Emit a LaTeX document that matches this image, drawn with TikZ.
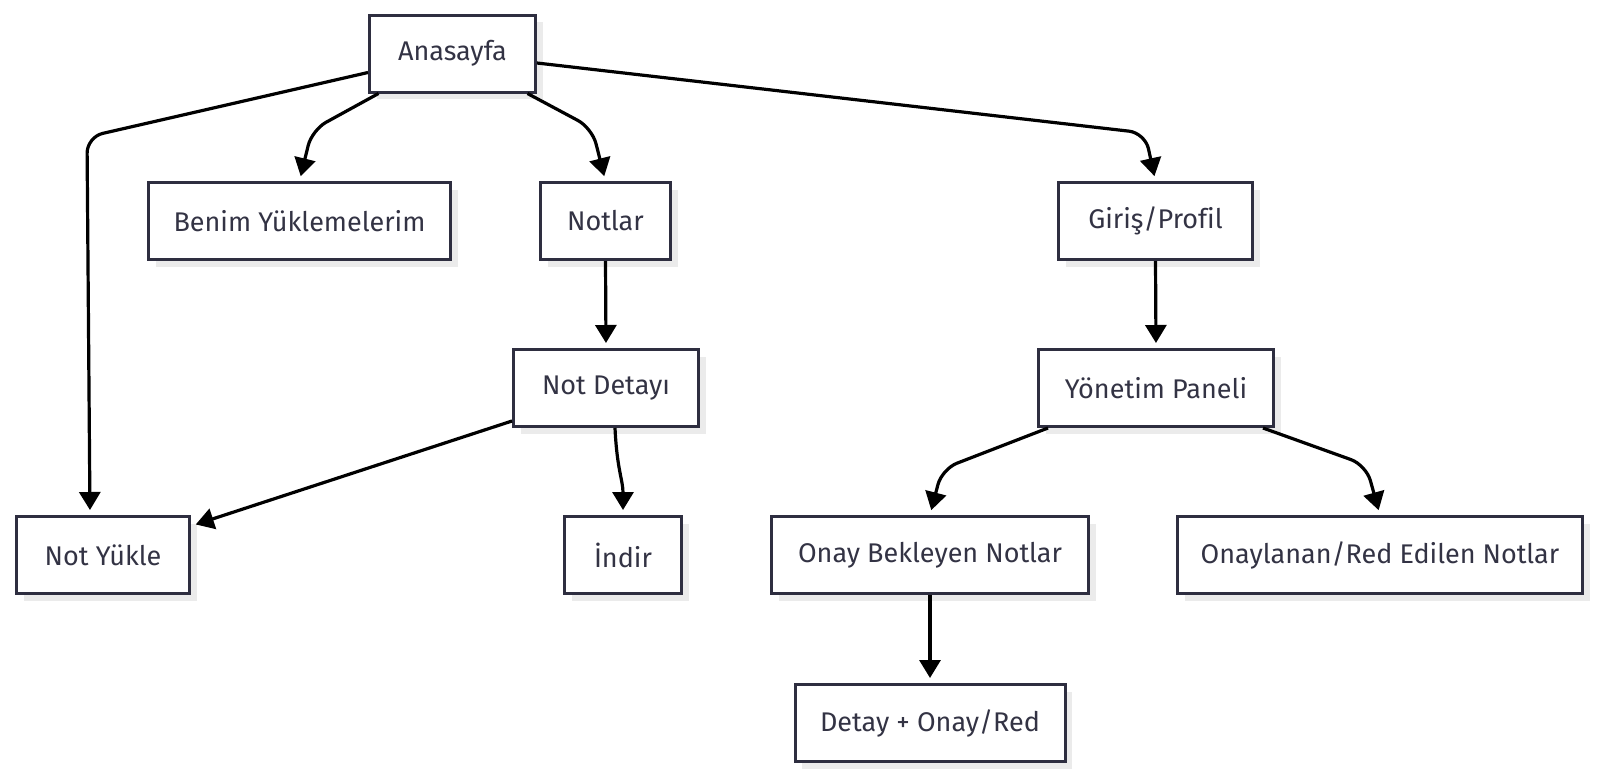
\documentclass[tikz,border=0pt]{standalone}
\usepackage{fontspec}
\setmainfont{Fira Sans}[Ligatures=NoCommon]
\usetikzlibrary{arrows.meta,shadows,calc}
\definecolor{bordc}{HTML}{2E2E40}
\definecolor{txtc}{HTML}{333344}
\begin{document}
\begin{tikzpicture}[x=1pt,y=-1pt,
  box/.style={draw=bordc,line width=3pt,fill=white,minimum height=77pt,inner sep=0pt,text=txtc,
    font=\fontsize{27}{32}\selectfont,
    drop shadow={shadow xshift=7pt,shadow yshift=-7pt,fill=black!8,opacity=1}},
  link/.style={line width=3.2pt,-{Triangle[width=21pt,length=18pt]},rounded corners=16pt,shorten >=5pt}]
\useasboundingbox[fill=white] (0,0) rectangle (1600,777);
\node[box,minimum width=166pt] (ana) at (452.5,53.5) {Anasayfa};
\node[box,minimum width=302pt] (ben) at (299.5,221) {Benim Yüklemelerim};
\node[box,minimum width=130pt] (not) at (605.5,221) {Notlar};
\node[box,minimum width=194pt] (gir) at (1155.5,221) {Giriş/Profil};
\node[box,minimum width=185pt] (det) at (606,388) {Not Detayı};
\node[box,minimum width=235pt] (yon) at (1156,388) {Yönetim Paneli};
\node[box,minimum width=173pt] (yuk) at (103,555) {Not Yükle};
\node[box,minimum width=117pt] (ind) at (623,555) {İndir};
\node[box,minimum width=317pt] (onb) at (930,555) {Onay Bekleyen Notlar};
\node[box,minimum width=405pt] (ona) at (1380,555) {Onaylanan/Red Edilen Notlar};
\node[box,minimum width=270pt] (dor) at (930,723) {Detay + Onay/Red};
\coordinate (c1) at (87,137);
\coordinate (c2) at (312,130);
\coordinate (c3) at (592,128);
\coordinate (c4) at (1145,133);
\coordinate (c9) at (942,469);
\coordinate (c10) at (1366,465);
\draw[link] ([yshift=-19pt]ana.west) -- (c1) -- ([xshift=-13pt]yuk.north);
\draw[link] ([xshift=-74pt]ana.south) -- (c2) -- (ben.north);
\draw[link] ([xshift=75pt]ana.south) -- (c3) -- (not.north);
\draw[link] ([yshift=-9.5pt]ana.east) -- (c4) -- (gir.north);
\draw[link] (not.south) -- (det.north);
\draw[link] ([yshift=-33pt]det.west) -- ([yshift=29pt]yuk.east);
\draw[link] ([xshift=9pt]det.south) .. controls ([xshift=11pt,yshift=-42pt]det.south) and ([yshift=35pt]ind.north) .. (ind.north);
\draw[link] (gir.south) -- (yon.north);
\draw[link] ([xshift=-108pt]yon.south) -- (c9) -- (onb.north);
\draw[link] ([xshift=107pt]yon.south) -- (c10) -- (ona.north);
\draw[link] (onb.south) -- (dor.north);
\end{tikzpicture}
\end{document}
